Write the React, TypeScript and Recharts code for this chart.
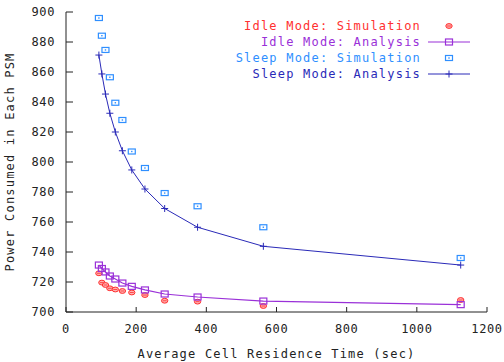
import React from 'react';
import { ComposedChart, Line, Scatter, XAxis, YAxis, Legend } from 'recharts';

// cell residence times (sec)
const residenceTimes = [93.75, 102.27, 112.5, 125, 140.63, 160.71, 187.5, 225, 281.25, 375, 562.5, 1125];

const idleSim = [725.8, 719.6, 718, 715.8, 715, 714, 713, 711.3, 707.5, 706.9, 704, 708];
const idleAnalysis = [731.3, 729, 726.7, 724, 722, 719.3, 717.1, 714.7, 712, 710, 707.3, 704.9];
const sleepSim = [896, 884.2, 874.7, 856.5, 839.5, 828, 807, 796, 779.3, 770.5, 756.5, 736];
const sleepAnalysis = [871.3, 858.7, 845.3, 832.5, 820, 807.5, 794.7, 782, 769, 756.5, 743.8, 731.3];

const xTicks = [0, 200, 400, 600, 800, 1000, 1200];
const yTicks = [700, 720, 740, 760, 780, 800, 820, 840, 860, 880, 900];

const RED = '#ff3030';
const PURPLE = '#9a30d8';
const LIGHTBLUE = '#2f8fff';
const BLUE = '#2a2ab8';

const toPoints = (ys: number[]) => residenceTimes.map((x, i) => ({ x, y: ys[i] }));

const FONT = '"DejaVu Sans Mono", monospace';
const tickStyle = { fill: '#222', fontSize: 12, fontFamily: FONT, letterSpacing: 0.6 };

const RedDot = (p: any) => (
  <g>
    <ellipse cx={p.cx} cy={p.cy} rx={3.2} ry={2.4} fill="#ffb0b0" stroke={RED} strokeWidth={1} />
    <line x1={p.cx - 2} y1={p.cy} x2={p.cx + 2} y2={p.cy} stroke={RED} strokeWidth={0.8} />
  </g>
);

const BlueSquare = (p: any) => (
  <g>
    <rect x={p.cx - 3.5} y={p.cy - 2.5} width={7} height={5} fill="none" stroke={LIGHTBLUE} strokeWidth={1.2} />
    <rect x={p.cx - 0.7} y={p.cy - 0.7} width={1.4} height={1.4} fill={LIGHTBLUE} />
  </g>
);

const PurpleSquare = (p: any) => (
  <rect key={p.index} x={p.cx - 3.5} y={p.cy - 3} width={7} height={6} fill="none" stroke={PURPLE} strokeWidth={1.2} />
);

const Plus = (p: any) => (
  <g key={p.index}>
    <line x1={p.cx - 3.5} y1={p.cy} x2={p.cx + 3.5} y2={p.cy} stroke={BLUE} strokeWidth={1} />
    <line x1={p.cx} y1={p.cy - 3.5} x2={p.cx} y2={p.cy + 3.5} stroke={BLUE} strokeWidth={1} />
  </g>
);

const legendRows = [
  { label: 'Idle Mode: Simulation', color: RED, kind: 'red' },
  { label: 'Idle Mode: Analysis', color: PURPLE, kind: 'purple' },
  { label: 'Sleep Mode: Simulation', color: LIGHTBLUE, kind: 'lightblue' },
  { label: 'Sleep Mode: Analysis', color: BLUE, kind: 'blue' },
];

const LegendBox = () => (
  <div style={{ position: 'relative', width: 310, height: 70 }}>
    {legendRows.map((r, i) => (
      <div key={r.label} style={{ position: 'absolute', top: i * 16.3, left: 0, width: 310, height: 16 }}>
        <span
          style={{
            position: 'absolute', right: 59, top: 0, color: r.color, fontFamily: FONT,
            fontSize: 12, letterSpacing: 1.2, whiteSpace: 'nowrap', lineHeight: '16px',
          }}
        >
          {r.label}
        </span>
        <svg width={50} height={16} style={{ position: 'absolute', left: 258, top: 0 }}>
          {r.kind === 'red' && RedDot({ cx: 21, cy: 8 })}
          {r.kind === 'lightblue' && BlueSquare({ cx: 21, cy: 8 })}
          {r.kind === 'purple' && (
            <g>
              <line x1={0} y1={8} x2={42} y2={8} stroke={PURPLE} strokeWidth={1.2} />
              {PurpleSquare({ cx: 21, cy: 8 })}
            </g>
          )}
          {r.kind === 'blue' && (
            <g>
              <line x1={0} y1={8} x2={42} y2={8} stroke={BLUE} strokeWidth={1} />
              {Plus({ cx: 21, cy: 8 })}
            </g>
          )}
        </svg>
      </div>
    ))}
  </div>
);

export default function App() {
  return (
    <div style={{ position: 'absolute', left: 0, top: 0, background: '#fff' }}>
      <ComposedChart width={504} height={362} margin={{ top: 12, right: 17, bottom: 0, left: 0 }}>
        <XAxis
          xAxisId="b" dataKey="x" type="number" domain={[0, 1200]} ticks={xTicks}
          height={50} tickSize={-5} tickMargin={17} stroke="#222" tick={tickStyle}
          label={{ value: 'Average Cell Residence Time (sec)', position: 'insideBottom', offset: 4, style: { ...tickStyle, letterSpacing: 1.2 } }}
        />
        <XAxis
          xAxisId="t" orientation="top" dataKey="x" type="number" domain={[0, 1200]} ticks={xTicks}
          height={0} tickSize={-5} stroke="#222" tickFormatter={() => ''}
        />
        <YAxis
          yAxisId="l" type="number" domain={[700, 900]} ticks={yTicks} width={66}
          tickSize={-7} tickMargin={18} stroke="#222" tick={tickStyle}
          label={{ value: 'Power Consumed in Each PSM', angle: -90, position: 'insideLeft', offset: 10, style: { ...tickStyle, letterSpacing: 1.2, textAnchor: 'middle' } }}
        />
        <YAxis
          yAxisId="r" orientation="right" type="number" domain={[700, 900]} ticks={yTicks} width={0}
          tickSize={-7} stroke="#222" tickFormatter={() => ''}
        />
        <Legend
          layout="vertical" align="center" verticalAlign="middle"
          wrapperStyle={{ position: 'absolute', top: 17.5, left: 170, width: 310 }}
          content={() => <LegendBox />}
        />
        <Line
          xAxisId="b" yAxisId="l" data={toPoints(idleAnalysis)} dataKey="y" stroke={PURPLE} strokeWidth={1.2}
          dot={PurpleSquare} isAnimationActive={false}
        />
        <Line
          xAxisId="b" yAxisId="l" data={toPoints(sleepAnalysis)} dataKey="y" stroke={BLUE} strokeWidth={1}
          dot={Plus} isAnimationActive={false}
        />
        <Scatter xAxisId="b" yAxisId="l" data={toPoints(idleSim)} dataKey="y" shape={RedDot} isAnimationActive={false} />
        <Scatter xAxisId="b" yAxisId="l" data={toPoints(sleepSim)} dataKey="y" shape={BlueSquare} isAnimationActive={false} />
      </ComposedChart>
    </div>
  );
}
